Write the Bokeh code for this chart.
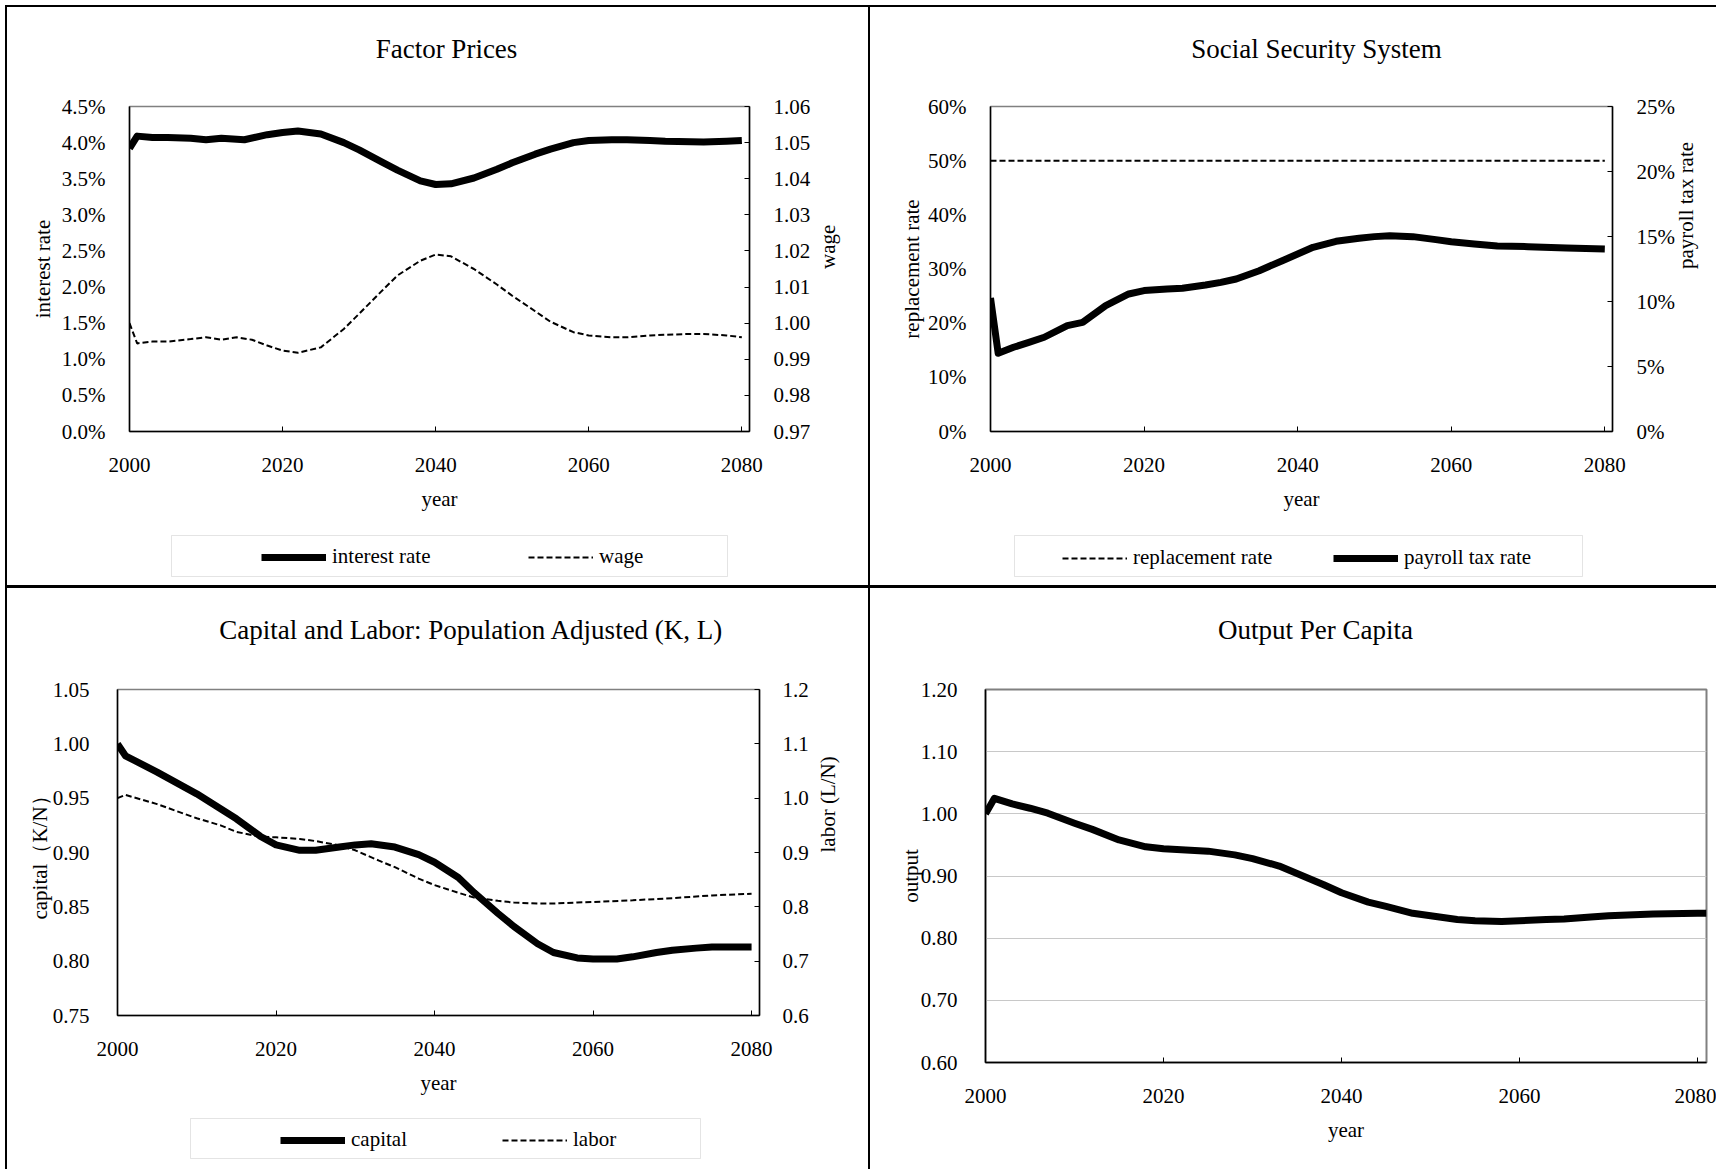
import math

from bokeh.plotting import figure
from bokeh.models import (Range1d, LinearAxis, FixedTicker, NumeralTickFormatter,
                          Legend, LegendItem, BoxAnnotation, Label, Div)
from bokeh.layouts import row, column
from bokeh.embed import file_html
from bokeh.resources import INLINE

FONT = "Liberation Serif"

# ---- Factor prices -------------------------------------------------------
ir_year = [2000, 2001, 2003, 2005, 2008, 2010, 2012, 2015, 2018, 2020, 2022, 2025,
           2028, 2030, 2033, 2035, 2038, 2040, 2042, 2045, 2048, 2050, 2053, 2055,
           2058, 2060, 2063, 2065, 2068, 2070, 2075, 2078, 2080]
interest_rate = [0.0392, 0.0409, 0.0407, 0.0407, 0.0406, 0.0404, 0.0406, 0.0404, 0.0411,
                 0.0414, 0.0416, 0.0412, 0.0400, 0.0390, 0.0373, 0.0362, 0.0347, 0.0342,
                 0.0343, 0.0351, 0.0363, 0.0372, 0.0384, 0.0391, 0.0400, 0.0403, 0.0404,
                 0.0404, 0.0403, 0.0402, 0.0401, 0.0402, 0.0403]
wage_year = [2000, 2001, 2003, 2005, 2008, 2010, 2012, 2014, 2016, 2018, 2020, 2022,
             2025, 2028, 2030, 2033, 2035, 2038, 2040, 2042, 2045, 2048, 2050, 2053,
             2055, 2058, 2060, 2063, 2065, 2068, 2070, 2073, 2075, 2078, 2080]
wage = [1.0000, 0.9944, 0.9949, 0.9949, 0.9956, 0.9961, 0.9954, 0.9961, 0.9954, 0.9938,
        0.9924, 0.9918, 0.9933, 0.9984, 1.0026, 1.0090, 1.0132, 1.0173, 1.0190, 1.0185,
        1.0150, 1.0107, 1.0076, 1.0033, 1.0004, 0.9975, 0.9966, 0.9961, 0.9961, 0.9966,
        0.9968, 0.9970, 0.9970, 0.9966, 0.9961]

# ---- Social security system ---------------------------------------------
rr_year = [2000, 2010, 2020, 2030, 2040, 2050, 2060, 2070, 2080]
replacement_rate = [0.50, 0.50, 0.50, 0.50, 0.50, 0.50, 0.50, 0.50, 0.50]
tax_year = [2000, 2001, 2003, 2005, 2007, 2010, 2012, 2015, 2018, 2020, 2023, 2025,
            2028, 2030, 2032, 2035, 2038, 2040, 2042, 2045, 2048, 2050, 2052, 2055,
            2058, 2060, 2063, 2066, 2070, 2075, 2080]
payroll_tax_rate = [0.1027, 0.0602, 0.0648, 0.0686, 0.0725, 0.0815, 0.0840, 0.0968,
                    0.1058, 0.1084, 0.1097, 0.1102, 0.1127, 0.1147, 0.1173, 0.1237,
                    0.1314, 0.1365, 0.1417, 0.1463, 0.1486, 0.1499, 0.1506, 0.1499,
                    0.1476, 0.1460, 0.1443, 0.1427, 0.1422, 0.1412, 0.1404]

# ---- Capital and labor ----------------------------------------------------
cap_year = [2000, 2001, 2005, 2010, 2015, 2018, 2020, 2023, 2025, 2028, 2030, 2032,
            2035, 2038, 2040, 2043, 2045, 2048, 2050, 2053, 2055, 2058, 2060, 2063,
            2065, 2068, 2070, 2073, 2075, 2078, 2080]
capital = [1.000, 0.989, 0.974, 0.954, 0.931, 0.915, 0.907, 0.902, 0.902, 0.905, 0.907,
           0.908, 0.905, 0.898, 0.891, 0.877, 0.863, 0.844, 0.832, 0.816, 0.808, 0.803,
           0.802, 0.802, 0.804, 0.808, 0.810, 0.812, 0.813, 0.813, 0.813]
lab_year = [2000, 2001, 2005, 2010, 2013, 2015, 2018, 2020, 2023, 2025, 2028, 2030,
            2033, 2035, 2038, 2040, 2043, 2045, 2048, 2050, 2053, 2055, 2058, 2060,
            2065, 2070, 2075, 2080]
labor = [1.000, 1.006, 0.989, 0.963, 0.950, 0.938, 0.929, 0.928, 0.925, 0.921, 0.913,
         0.904, 0.885, 0.873, 0.852, 0.840, 0.826, 0.817, 0.811, 0.808, 0.806, 0.806,
         0.808, 0.809, 0.812, 0.816, 0.821, 0.824]

# ---- Output per capita ----------------------------------------------------
out_year = [2000, 2001, 2003, 2005, 2007, 2010, 2012, 2015, 2018, 2020, 2025, 2028,
            2030, 2033, 2035, 2038, 2040, 2043, 2045, 2048, 2050, 2053, 2055, 2058,
            2060, 2063, 2065, 2068, 2070, 2075, 2080, 2081]
output = [1.000, 1.025, 1.016, 1.009, 1.001, 0.985, 0.975, 0.958, 0.947, 0.944, 0.940,
          0.934, 0.928, 0.916, 0.904, 0.886, 0.873, 0.858, 0.851, 0.840, 0.836, 0.830,
          0.828, 0.827, 0.828, 0.830, 0.831, 0.834, 0.836, 0.839, 0.840, 0.840]

year_ticks = [2000, 2020, 2040, 2060, 2080]

THICK = 7
THIN = 2
DASH = "6 3"
SMALL = "21px"

AXIS_PROPS = LinearAxis.properties()


def ticks(start, step, n):
    return [round(start + i * step, 4) for i in range(n)]


def strip(w, h, left, right):
    """Plain strip whose frame lines up with the chart's plot area; its ranges
    are laid out in canvas pixels (y counted from the top)."""
    sp = figure(width=w, height=h, x_range=Range1d(left, w - right), y_range=Range1d(h, 0),
                output_backend="svg", toolbar_location=None,
                min_border_left=left, min_border_right=right,
                min_border_top=0, min_border_bottom=0,
                x_axis_location=None, y_axis_location=None,
                outline_line_color=None, background_fill_color="white",
                border_fill_color="white")
    sp.xgrid.visible = False
    sp.ygrid.visible = False
    return sp


def title_strip(w, h, left, right, text, cx, cy):
    tp = strip(w, h, left, right)
    tp.add_layout(Label(x=cx, y=cy, text=text, text_align="center", text_baseline="middle",
                        text_font=FONT, text_font_size="27px", text_color="black"))
    return tp


def make_fig(w, h, left, right, top, bottom, xr, yr):
    p = figure(width=w, height=h, x_range=Range1d(*xr), y_range=Range1d(*yr),
               output_backend="svg", toolbar_location=None, title=None,
               min_border_left=left, min_border_right=right,
               min_border_top=top, min_border_bottom=bottom,
               x_axis_location=None, y_axis_location=None,
               outline_line_color="#808080", outline_line_width=1.5,
               background_fill_color="white", border_fill_color="white")
    p.xgrid.visible = False
    p.ygrid.visible = False
    return p


def style_axis(ax, label, label_standoff, axis_label_standoff, tick_in=0, upward=False):
    ax.axis_label = label
    ax.axis_label_text_font = FONT
    ax.axis_label_text_font_size = SMALL
    ax.axis_label_text_font_style = "normal"
    ax.axis_label_text_color = "black"
    ax.axis_label_standoff = axis_label_standoff
    if upward and "axis_label_orientation" in AXIS_PROPS:
        ax.axis_label_orientation = math.pi / 2
    ax.major_label_text_font = FONT
    ax.major_label_text_font_size = SMALL
    ax.major_label_text_color = "black"
    ax.major_label_standoff = label_standoff
    ax.major_tick_in = tick_in
    ax.major_tick_out = 0
    ax.major_tick_line_color = "black"
    ax.minor_tick_line_color = None
    ax.axis_line_color = "black"
    ax.axis_line_width = 1.5
    return ax


def x_axis(p, label_standoff, axis_label_standoff):
    ax = LinearAxis(ticker=FixedTicker(ticks=year_ticks))
    style_axis(ax, "year", label_standoff, axis_label_standoff, tick_in=5)
    p.add_layout(ax, "below")


def legend_strip(w, h, left, right, box, entries, first_x, mid_y, label_width):
    """Legend for a chart, inside a thin grey box.
    entries: (label, line_width, line_dash) for each series, in order."""
    lp = strip(w, h, left, right)
    l, t, r, b = box
    lp.add_layout(BoxAnnotation(left=l, right=r, top=t, bottom=b, fill_alpha=0,
                                line_color="#a6a6a6", line_width=1))
    items = []
    nan = float("nan")
    for label, lw, dash in entries:
        rend = lp.line(x=[nan], y=[nan], line_color="black", line_width=lw, line_dash=dash)
        items.append(LegendItem(label=label, renderers=[rend]))
    item_h = 24
    leg = Legend(items=items, orientation="horizontal",
                 location=(first_x - left, h - mid_y - item_h // 2),
                 padding=0, margin=0, spacing=0, glyph_width=65, glyph_height=20,
                 label_standoff=6, label_width=label_width, label_height=item_h,
                 label_text_font=FONT, label_text_font_size=SMALL,
                 label_text_color="black",
                 border_line_alpha=0, background_fill_alpha=0)
    lp.add_layout(leg)
    return lp


# ---- Panel: Factor Prices -------------------------------------------------
ta = title_strip(861, 60, 122, 119, "Factor Prices", 439, 41)
pa = make_fig(861, 458, 122, 119, 39, 94, (2000, 2081), (0, 0.045))
pa.extra_y_ranges = {"wage": Range1d(0.97, 1.06)}
ya = LinearAxis(ticker=FixedTicker(ticks=ticks(0, 0.005, 10)),
                formatter=NumeralTickFormatter(format="0.0%"))
style_axis(ya, "interest rate", 24, 4)
pa.add_layout(ya, "left")
ya2 = LinearAxis(y_range_name="wage", ticker=FixedTicker(ticks=ticks(0.97, 0.01, 10)),
                 formatter=NumeralTickFormatter(format="0.00"))
style_axis(ya2, "wage", 24, 15, tick_in=5, upward=True)
pa.add_layout(ya2, "right")
x_axis(pa, 26, 12)
pa.line(ir_year, interest_rate, line_color="black", line_width=THICK, line_join="round")
pa.line(wage_year, wage, y_range_name="wage", line_color="black",
        line_width=THIN, line_dash=DASH)
la = legend_strip(861, 60, 122, 119, (164, 10, 720, 51),
                  [("interest rate", THICK, "solid"), ("wage", THIN, DASH)],
                  254, 32, 196)

# ---- Panel: Social Security System ----------------------------------------
tb = title_strip(846, 60, 120, 104, "Social Security System", 446, 41)
pb = make_fig(846, 458, 120, 104, 39, 94, (2000, 2081), (0, 0.6))
pb.extra_y_ranges = {"tax": Range1d(0, 0.25)}
yb = LinearAxis(ticker=FixedTicker(ticks=ticks(0, 0.1, 7)),
                formatter=NumeralTickFormatter(format="0%"))
style_axis(yb, "replacement rate", 24, 1)
pb.add_layout(yb, "left")
yb2 = LinearAxis(y_range_name="tax", ticker=FixedTicker(ticks=ticks(0, 0.05, 6)),
                 formatter=NumeralTickFormatter(format="0%"))
style_axis(yb2, "payroll tax rate", 24, 8, tick_in=5, upward=True)
pb.add_layout(yb2, "right")
x_axis(pb, 26, 12)
pb.line(rr_year, replacement_rate, line_color="black", line_width=THIN, line_dash=DASH)
pb.line(tax_year, payroll_tax_rate, y_range_name="tax", line_color="black",
        line_width=THICK, line_join="round")
lb = legend_strip(846, 60, 120, 104, (144, 10, 712, 51),
                  [("replacement rate", THIN, DASH), ("payroll tax rate", THICK, "solid")],
                  192, 33, 200)

# ---- Panel: Capital and Labor ---------------------------------------------
tc = title_strip(861, 60, 110, 109, "Capital and Labor: Population Adjusted (K, L)", 464, 41)
pc = make_fig(861, 457, 110, 109, 41, 90, (2000, 2081), (0.75, 1.05))
pc.extra_y_ranges = {"labor": Range1d(0.6, 1.2)}
yc = LinearAxis(ticker=FixedTicker(ticks=ticks(0.75, 0.05, 7)),
                formatter=NumeralTickFormatter(format="0.00"))
style_axis(yc, "capital（K/N）", 28, -2)
pc.add_layout(yc, "left")
yc2 = LinearAxis(y_range_name="labor", ticker=FixedTicker(ticks=ticks(0.6, 0.1, 7)),
                 formatter=NumeralTickFormatter(format="0.0"))
style_axis(yc2, "labor (L/N)", 23, 16, tick_in=5, upward=True)
pc.add_layout(yc2, "right")
x_axis(pc, 26, 12)
pc.line(cap_year, capital, line_color="black", line_width=THICK, line_join="round")
pc.line(lab_year, labor, y_range_name="labor", line_color="black",
        line_width=THIN, line_dash=DASH)
lc = legend_strip(861, 64, 110, 109, (183, 13, 693, 53),
                  [("capital", THICK, "solid"), ("labor", THIN, DASH)],
                  273, 35, 151)

# ---- Panel: Output Per Capita ---------------------------------------------
td = title_strip(846, 60, 115, 10, "Output Per Capita", 445, 41)
pd_ = make_fig(846, 521, 115, 10, 41, 107, (2000, 2081), (0.6, 1.2))
pd_.ygrid.visible = True
yd = LinearAxis(ticker=FixedTicker(ticks=ticks(0.6, 0.1, 7)),
                formatter=NumeralTickFormatter(format="0.00"))
style_axis(yd, "output", 28, -5)
pd_.add_layout(yd, "left")
pd_.ygrid.ticker = FixedTicker(ticks=ticks(0.7, 0.1, 5))
pd_.ygrid.grid_line_color = "#c8c8c8"
pd_.ygrid.grid_line_width = 1
x_axis(pd_, 26, 12)
pd_.line(out_year, output, line_color="black", line_width=THICK, line_join="round")
pd_.outline_line_width = 2


# ---- Page layout with frame rules ------------------------------------------
def rule(w, h):
    return Div(width=w, height=h, margin=0, styles={"background-color": "black"})


def blank(w, h):
    return Div(width=w, height=h, margin=0)


top_strip = blank(1716, 5)
top_rule = row(blank(5, 2), rule(1711, 2), spacing=0)
row1 = row(blank(5, 578), rule(2, 578), column(ta, pa, la, spacing=0), rule(2, 578),
           column(tb, pb, lb, spacing=0), spacing=0)
mid_rule = row(blank(5, 3), rule(1711, 3), spacing=0)
row2 = row(blank(5, 581), rule(2, 581), column(tc, pc, lc, spacing=0), rule(2, 581),
           column(td, pd_, spacing=0), spacing=0)
page = column(top_strip, top_rule, row1, mid_rule, row2, spacing=0)

open("out.html", "w").write(file_html(page, INLINE))
